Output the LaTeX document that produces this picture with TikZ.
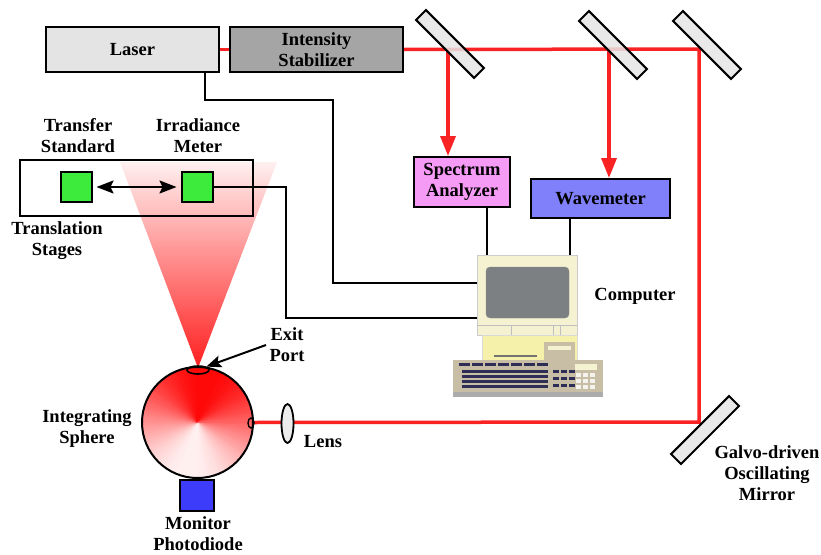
\documentclass[tikz,border=0pt]{standalone}
\usepackage{fontspec}
\setmainfont{Liberation Serif}
\usetikzlibrary{arrows.meta,positioning,shapes.geometric}

\definecolor{beamred}{RGB}{250,35,35}
\definecolor{laserfill}{RGB}{228,228,228}
\definecolor{stabfill}{RGB}{165,165,165}
\definecolor{specfill}{RGB}{245,155,245}
\definecolor{wavefill}{RGB}{128,128,250}
\definecolor{detgreen}{RGB}{60,235,60}
\definecolor{diodeblue}{RGB}{60,60,250}
\definecolor{cream}{RGB}{245,242,210}
\definecolor{screengray}{RGB}{125,128,130}
\definecolor{baseyellow}{RGB}{245,240,170}
\definecolor{keytan}{RGB}{200,190,165}
\definecolor{keyblue}{RGB}{45,45,85}

\begin{document}
\begin{tikzpicture}[
    x=1pt, y=-1pt,
    every node/.style={font=\fontsize{18.5}{21}\selectfont\bfseries, align=center},
    box/.style={draw, line width=2pt, inner sep=0pt},
    mirror/.style={draw, line width=2pt, fill=gray!20, fill opacity=0.85, minimum width=82pt, minimum height=14pt, inner sep=0pt},
    sq/.style={draw, line width=2pt, minimum width=31pt, minimum height=30pt, inner sep=0pt},
    beam/.style={draw=beamred, line width=3.5pt},
    beamarrow/.style={beam, -{Triangle[length=20pt,width=15pt]}},
    wire/.style={line width=1.8pt},
    ptr/.style={line width=2pt, -{Stealth[length=15pt,width=12pt,inset=3pt]}}
  ]
    \useasboundingbox (0,0) rectangle (821,554);

    % light cone from the exit port
    \shade[top color=red!6, bottom color=red!88] (120,162) -- (277,162) -- (198,368) -- cycle;

    % source and instruments
    \node[box, fill=laserfill, minimum width=173pt, minimum height=45pt] (laser) at (132.5,49.5) {Laser};
    \node[box, fill=stabfill, minimum width=173pt, minimum height=45pt] (stab) at (316.5,49.5) {Intensity\\Stabilizer};
    \node[box, fill=specfill, minimum width=96pt, minimum height=50pt] (spec) at (462,182) {Spectrum\\Analyzer};
    \node[box, fill=wavefill, minimum width=139pt, minimum height=39pt] (wave) at (600.5,198.5) {Wavemeter};

    % translation stages
    \node[box, minimum width=233pt, minimum height=56pt] (stage) at (136.5,188) {};
    \node[sq, fill=detgreen] (ts) at (76,187) {};
    \node[sq, fill=detgreen] (im) at (197,187) {};
    \draw[line width=2pt, {Stealth[length=17pt,width=13pt,inset=3pt]}-{Stealth[length=17pt,width=13pt,inset=3pt]}] ([xshift=4pt]ts.east) -- ([xshift=-4pt]im.west);
    \node (tslbl) at (78,136) {Transfer\\Standard};
    \node (imlbl) at (198,136) {Irradiance\\Meter};
    \node (stagelbl) at (57,241) {Translation\\Stages};

    % beam path
    \coordinate (split1) at (448,49);
    \coordinate (split2) at (609,49);
    \coordinate (turn) at (699,49);
    \coordinate (galvohit) at (699,422);
    \draw[beam] (laser.east) -- (stab.west);
    \draw[beam] (stab.east) -- (turn) -- (galvohit) -- (251,422.5);
    \draw[beamarrow] (split1) -- ([xshift=-14pt]spec.north);
    \draw[beamarrow] (split2) -- ([xshift=8.5pt]wave.north);

    % mirrors
    \node[mirror, rotate=-45] (bs1) at (450,44) {};
    \node[mirror, rotate=-45] (bs2) at (613,45) {};
    \node[mirror, rotate=-45] (fold) at (707,45) {};
    \node[mirror, rotate=45] (galvo) at (705,430) {};
    \node (galvolbl) at (767,473) {Galvo-driven\\Oscillating\\Mirror};

    % integrating sphere
    \foreach \a in {0,3,...,357}{
      \pgfmathtruncatemacro\p{52+46*cos(\a+80)}
      \fill[red!\p!white, draw=red!\p!white, line width=0.6pt] (197.5,422.5) -- ++(\a:55) arc[start angle=\a, end angle=\a+3.5, radius=55] -- cycle;
    }
    \node[circle, draw, line width=2pt, minimum size=111pt, inner sep=0pt] (sphere) at (197.5,422.5) {};
    \node[ellipse, draw, line width=1.6pt, minimum width=22pt, minimum height=8pt, inner sep=0pt] (port) at (198,370) {};
    \node[ellipse, draw, line width=1.4pt, minimum width=6pt, minimum height=10pt, inner sep=0pt] (inport) at (251,423) {};
    \node[box, fill=diodeblue, minimum width=34pt, minimum height=31pt] (diode) at (197,495.5) {};
    \node (spherelbl) at (87,429) {Integrating\\Sphere};
    \node (diodelbl) at (198,534) {Monitor\\Photodiode};
    \node (exitlbl) at (287,345) {Exit\\Port};
    \draw[ptr] (exitlbl.west) -- (port.north east);

    % lens
    \node[ellipse, draw, line width=1.8pt, fill=gray!15, minimum width=12pt, minimum height=39pt, inner sep=0pt] (lens) at (287.5,423.5) {};
    \node (lenslbl) at (323,442) {Lens};

    % computer
    \node[draw=black!20, fill=cream, minimum width=100pt, minimum height=80pt, inner sep=0pt] (comp) at (527,295) {};
    \filldraw[fill=screengray, draw=black!45, rounded corners=4pt] (486,267) rectangle (569,318);
    \draw[black!25] (477,325) -- (577,325);
    \foreach \x in {511,553,560}
      \draw[black!25] (\x,325) -- (\x,335);
    \filldraw[fill=baseyellow, draw=black!15] (482,335) rectangle (577,360);
    \draw[black!55, line width=1.5pt] (494,356) -- (537,356);
    \fill[keytan] (544,342) rectangle (575,360);
    \fill[cream] (548,346) rectangle (571,350);
    \fill[keytan] (453,360) rectangle (603,393);
    \fill[gray!65] (453,392) rectangle (603,397);
    \foreach \x in {459,472,485,498,511,524,537}
      \fill[keyblue] (\x,363) rectangle (\x+11,366);
    \foreach \y in {370,375,380,385}
      \fill[keyblue] (462,\y) rectangle (548,\y+3.2);
    \foreach \x in {553,561,569}
      \foreach \y in {370,377,384}
        \fill[keyblue] (\x,\y) rectangle (\x+6,\y+3);
    \fill[cream] (575,364) rectangle (597,370);
    \foreach \x in {576,583,590}
      \foreach \y in {373,379,385}
        \fill[white!80!keytan] (\x,\y) rectangle (\x+5,\y+3.5);
    \node (complbl) at (635,296) {Computer};

    % signal cables
    \coordinate (lasbend) at (333,100);
    \coordinate (imbend) at (286,318);
    \draw[wire] ([xshift=72.5pt]laser.south) |- (lasbend) |- ([yshift=12pt]comp.west);
    \draw[wire] (im.east) -| (imbend) -- ([yshift=-23pt]comp.west);
    \draw[wire] ([xshift=25pt]spec.south) -- ([xshift=25pt]spec.south |- comp.north);
    \draw[wire] ([xshift=-30.5pt]wave.south) -- ([xshift=-30.5pt]wave.south |- comp.north);
  \end{tikzpicture}
\end{document}
